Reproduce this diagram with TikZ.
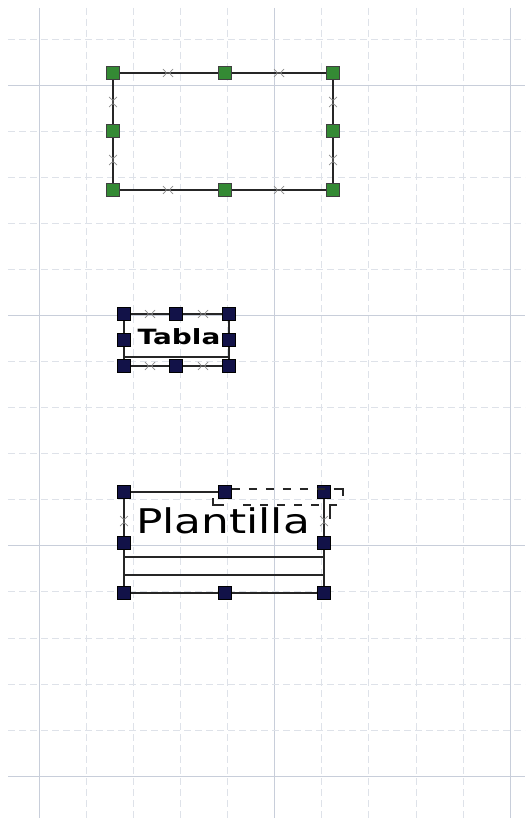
\documentclass[tikz,border=0pt]{standalone}
\usepackage{fontspec}
\setmainfont{DejaVu Sans}
\usetikzlibrary{positioning}
\definecolor{gridcol}{RGB}{200,206,218}
\definecolor{handlegreen}{RGB}{52,138,52}
\definecolor{handlenavy}{RGB}{18,18,72}

\begin{document}
\begin{tikzpicture}[x=1pt,y=-1pt,
  minor/.style={draw=gridcol!60, dash pattern=on 7pt off 4pt, line width=0.6pt},
  major/.style={draw=gridcol, line width=0.9pt},
  edge/.style={line width=1.6pt, black!85},
  tmpl/.style={line width=1.2pt, black!85, dash pattern=on 8pt off 9pt},
  ghandle/.style={draw=black!75, fill=handlegreen, minimum size=13pt, inner sep=0pt, line width=0.7pt},
  nhandle/.style={draw=black, fill=handlenavy, minimum size=13pt, inner sep=0pt, line width=0.7pt},
  grip/.style={draw=gray!90, line width=0.7pt}
]
\useasboundingbox[fill=white] (0,0) rectangle (525,818);

% grid
\foreach \k in {0,...,10}{
  \pgfmathtruncatemacro\m{mod(\k,5)}
  \ifnum\m=0 \draw[major] ({39+47.1*\k},8) -- ({39+47.1*\k},818);
  \else \draw[minor] ({39+47.1*\k},8) -- ({39+47.1*\k},818); \fi
}
\foreach \k in {-1,...,15}{
  \pgfmathtruncatemacro\m{mod(\k+5,5)}
  \ifnum\m=0 \draw[major] (8,{85+46.07*\k}) -- (525,{85+46.07*\k});
  \else \draw[minor] (8,{85+46.07*\k}) -- (525,{85+46.07*\k}); \fi
}

% empty box, green handles
\foreach \n/\x/\y in {r-nw/113/73, r-n/225/73, r-ne/333/73, r-w/113/131,
                      r-e/333/131, r-sw/113/190, r-s/225/190, r-se/333/190}
  \node[ghandle] (\n) at (\x,\y) {};
\draw[edge] (r-nw) -- (r-n) -- (r-ne) -- (r-e) -- (r-se) -- (r-s) -- (r-sw) -- (r-w) -- (r-nw);

% Tabla
\foreach \n/\x/\y in {t-nw/124/314, t-n/176/314, t-ne/229/314, t-w/124/340,
                      t-e/229/340, t-sw/124/366, t-s/176/366, t-se/229/366}
  \node[nhandle] (\n) at (\x,\y) {};
\draw[edge] (t-nw) -- (t-n) -- (t-ne) -- (t-e) -- (t-se) -- (t-s) -- (t-sw) -- (t-w) -- (t-nw);
\draw[edge] (t-w |- 0,357) -- (t-e |- 0,357);
\node[font=\bfseries\fontsize{21}{21}\selectfont, anchor=base, inner sep=0pt] (tabla) at (179,344) {\scalebox{1.33}[1]{Tabla}};

% Plantilla
\foreach \n/\x/\y in {p-nw/124/492, p-n/225/492, p-ne/324/492, p-w/124/543,
                      p-e/324/543, p-sw/124/593, p-s/225/593, p-se/324/593}
  \node[nhandle] (\n) at (\x,\y) {};
\draw[edge] (p-nw) -- (p-n);
\draw[edge] (p-nw) -- (p-w) -- (p-sw) -- (p-s) -- (p-se) -- (p-e) -- (p-ne);
\draw[line width=1.4pt, black!85] (p-w |- 0,557) -- (p-e |- 0,557);
\draw[line width=1.4pt, black!85] (p-w |- 0,575) -- (p-e |- 0,575);
\draw[tmpl] (p-n.east |- 0,489) -- (343,489);
\draw[line width=1.2pt, black!85] (336,489) -- (343,489) -- (343,496);
\draw[line width=1.2pt, black!85] (213,498) -- (213,505) -- (224,505);
\draw[tmpl] (243,505) -- (320,505);
\draw[line width=1.2pt, black!85] (337,505) -- (330,505) -- (330,519);
\node[font=\fontsize{34}{34}\selectfont, anchor=base, inner sep=0pt] (plantilla) at (223,533) {\scalebox{1.29}[1]{Plantilla}};

% grips
\foreach \x/\y/\r in {168/73/0, 279/73/0, 168/190/0, 279/190/0,
                      113/102/90, 113/160/90, 333/102/90, 333/160/90,
                      150/314/0, 203/314/0, 150/366/0, 203/366/0,
                      124/521/90, 324/521/90}
  \draw[grip, shift={(\x,\y)}, rotate=\r]
    (-5,-4) .. controls (-1,0) .. (-5,4)
    (5,-4) .. controls (1,0) .. (5,4)
    (-1.5,0) -- (1.5,0);
\end{tikzpicture}
\end{document}
